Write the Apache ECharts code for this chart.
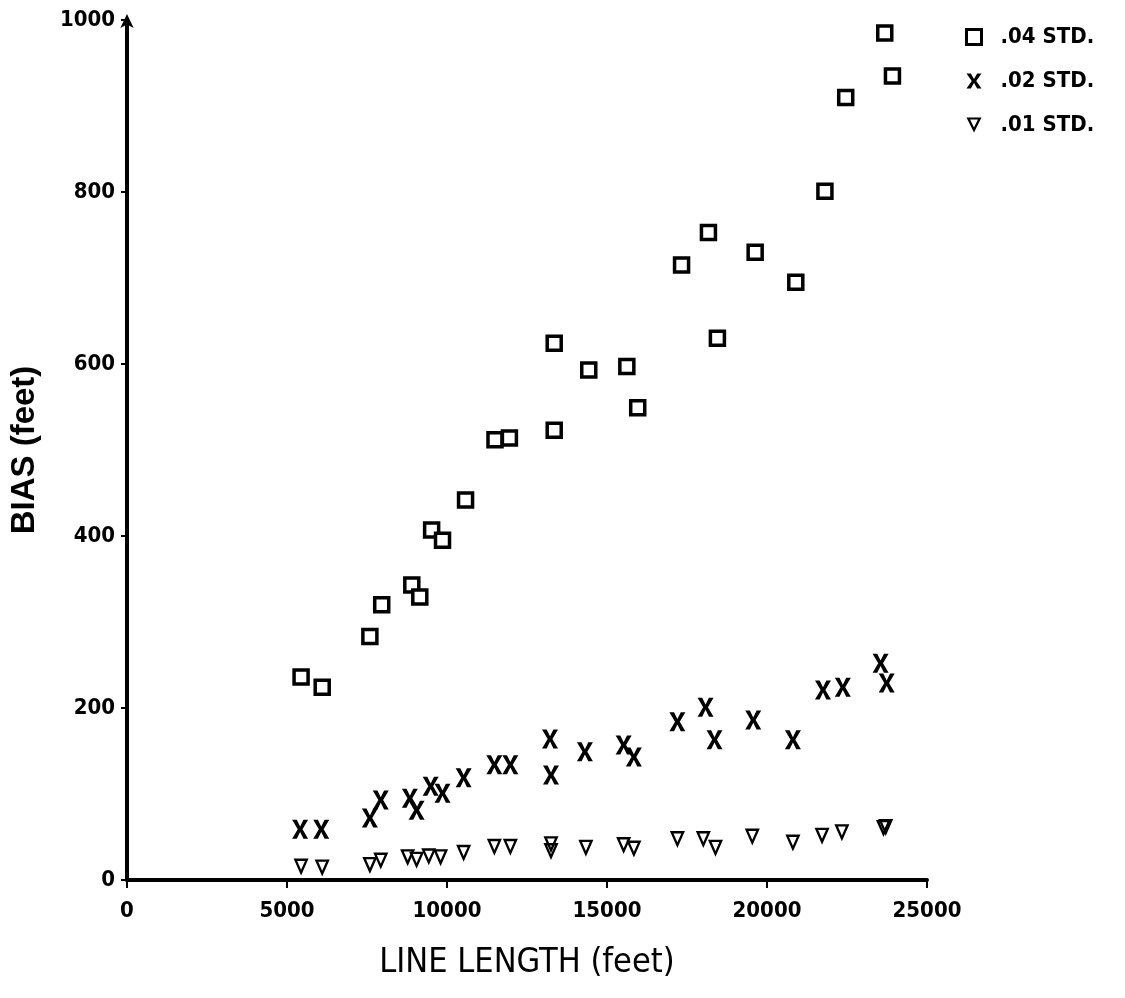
<!DOCTYPE html>
<html>
<head>
<meta charset="utf-8">
<script src="https://cdn.jsdelivr.net/npm/echarts@6/dist/echarts.min.js"></script>
<style>html,body{margin:0;padding:0;background:#fff}#c{width:1125px;height:998px}</style>
</head>
<body>
<div id="c"></div>
<script>
// Data: [line length (feet), bias (feet)]
const std04 = [
  [5440,236],[6100,224],[7590,283],[7960,320],[8900,343],[9150,329],
  [9520,407],[9860,395],[10580,442],[11500,512],[11950,514],
  [13350,624],[14430,593],[15620,597],[13350,523],[15960,549],
  [17330,715],[18170,753],[18450,630],[19630,730],[20900,695],
  [21810,801],[22460,910],[23680,985],[23920,935]
];
const std02 = [
  [5410,59],[6070,59],[7590,72],[7930,93],[8840,95],[9050,81],
  [9490,109],[9860,101],[10520,119],[11480,134],[11980,134],
  [13220,164],[13250,122],[14310,149],[15520,157],[15840,143],
  [17200,184],[18080,201],[18360,163],[19570,186],[20810,163],
  [21750,221],[22370,224],[23550,252],[23740,229]
];
const std01 = [
  [5440,15],[6100,14],[7590,17],[7930,22],[8770,26],[9050,23],
  [9430,27],[9800,26],[10520,31],[11480,38],[11980,38],
  [13250,41],[13250,33],[14340,37],[15520,40],[15840,36],
  [17200,47],[18010,47],[18390,37],[19540,50],[20810,43],
  [21720,51],[22340,55],[23640,60],[23710,61]
];
const seriesNames = ['.04 STD.', '.02 STD.', '.01 STD.'];
const xTicks = [0, 5000, 10000, 15000, 20000, 25000];
const yTicks = [0, 200, 400, 600, 800, 1000];

const narrow = "'Liberation Sans Narrow', 'DejaVu Sans Condensed', 'Liberation Sans', sans-serif";
const crossPath = 'path://M0,0 L2.9,0 L5,3.6 L7.1,0 L10,0 L6.5,5 L10,10 L7.1,10 L5,6.4 L2.9,10 L0,10 L3.5,5 Z';
const invTriPath = 'path://M0,0 L10,0 L5,10 Z M2.4,1.4 L5,6.6 L7.6,1.4 Z';

const chart = echarts.init(document.getElementById('c'), null, {renderer: 'canvas'});
chart.setOption({
  animation: false,
  backgroundColor: '#fff',
  grid: {left: 123, right: 198, top: 20, bottom: 118, containLabel: false},
  legend: {
    orient: 'vertical', left: 960, top: 21, itemGap: 22,
    itemWidth: 15, itemHeight: 15, inactiveColor: '#000',
    data: [
      {name: seriesNames[0], icon: 'rect', itemStyle: {color: '#fff', borderColor: '#000', borderWidth: 3}},
      {name: seriesNames[1], icon: crossPath, itemStyle: {color: '#000'}},
      {name: seriesNames[2], icon: invTriPath, itemStyle: {color: '#000'}}
    ],
    textStyle: {fontFamily: narrow, fontWeight: 'bold', fontSize: 22, color: '#000', padding: [0,0,0,14]}
  },
  xAxis: {
    type: 'value', min: 0, max: 25000, interval: 5000,
    name: 'LINE LENGTH (feet)', nameLocation: 'middle', nameGap: 66,
    nameTextStyle: {fontFamily: narrow, fontSize: 34, color: '#000'},
    axisLine: {lineStyle: {color: '#000', width: 4}},
    axisTick: {show: true, length: 8, lineStyle: {color: '#000', width: 2}},
    axisLabel: {fontFamily: narrow, fontWeight: 'bold', fontSize: 22, color: '#000', margin: 20,
      formatter: v => xTicks.includes(v) ? String(v) : ''},
    splitLine: {show: false}
  },
  yAxis: {
    type: 'value', min: 0, max: 1000, interval: 200,
    name: 'BIAS (feet)', nameLocation: 'middle', nameGap: 86, nameRotate: 90,
    nameTextStyle: {fontFamily: "'Liberation Sans', 'DejaVu Sans', sans-serif", fontWeight: 'bold', fontSize: 33, color: '#000'},
    axisLine: {lineStyle: {color: '#000', width: 4}, symbol: ['none', 'arrow'], symbolSize: [10, 14], symbolOffset: [0, 6]},
    axisTick: {show: true, length: 6, lineStyle: {color: '#000', width: 2}},
    axisLabel: {fontFamily: narrow, fontWeight: 'bold', fontSize: 22, color: '#000', margin: 12,
      formatter: v => yTicks.includes(v) ? String(v) : ''},
    splitLine: {show: false}
  },
  series: [
    {name: seriesNames[0], type: 'scatter', data: std04, symbol: 'rect', symbolSize: 14,
     itemStyle: {color: '#fff', borderColor: '#000', borderWidth: 3.5, opacity: 1}},
    {name: seriesNames[1], type: 'scatter', data: std02, symbol: crossPath, symbolSize: [16, 19],
     itemStyle: {color: '#000', opacity: 1}},
    {name: seriesNames[2], type: 'scatter', data: std01, symbol: invTriPath, symbolSize: [15, 17],
     itemStyle: {color: '#000', opacity: 1}}
  ]
});
</script>
</body>
</html>
